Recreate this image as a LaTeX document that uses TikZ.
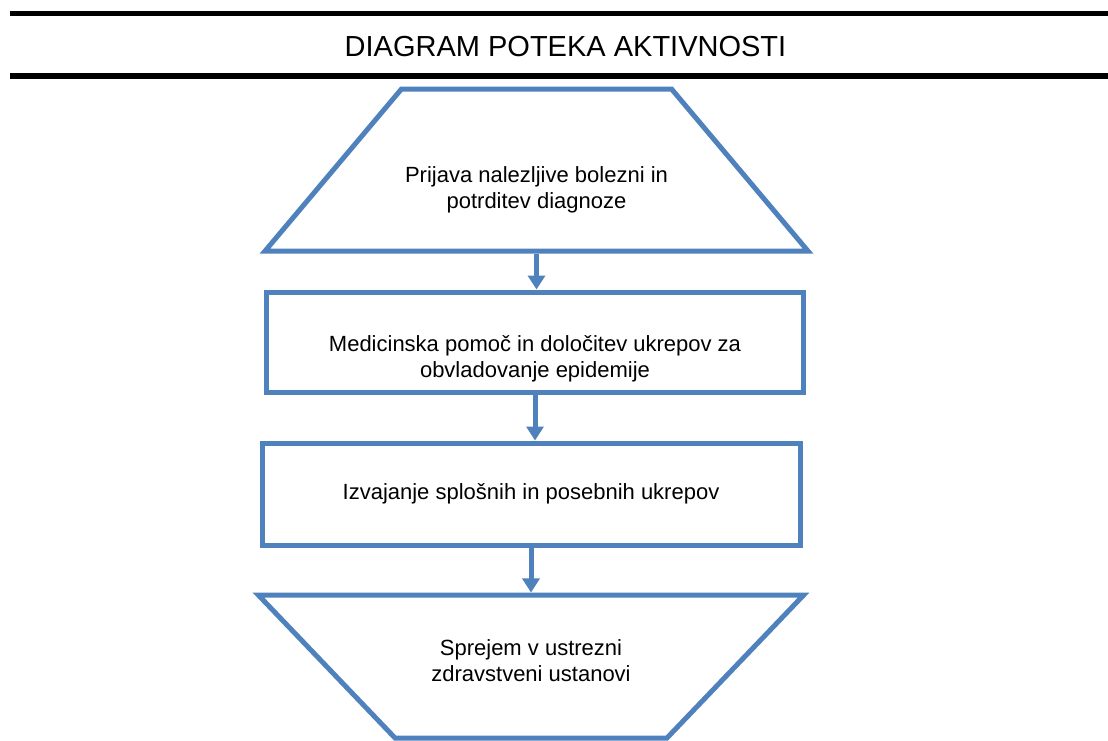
\documentclass[tikz,border=0pt]{standalone}
\usepackage{xcolor}
\usepackage{fontspec}
\setmainfont{Liberation Sans}
\usetikzlibrary{shapes.geometric,arrows.meta,positioning}
\definecolor{flowblue}{RGB}{79,129,189}

\begin{document}
\begin{tikzpicture}[x=1pt,y=-1pt,
  box/.style={draw=flowblue,line width=5pt,rectangle},
  trap/.style={draw=flowblue,line width=5pt,trapezium,trapezium stretches=true},
  lbl/.style={align=center,font=\fontsize{22}{26.5}\selectfont},
  flow/.style={draw=flowblue,line width=5pt,-{Triangle[width=17pt,length=14pt]}}]
\useasboundingbox (0,0) rectangle (1108,740);

% header rules and title
\draw [line width=5.5pt]  (10,13.5) -- (1108,13.5) ;
\draw [line width=5.5pt]  (10,76) -- (1108,76) ;
\node [font=\fontsize{29}{35}\selectfont] (title) at (565.5,46.5) {DIAGRAM POTEKA AKTIVNOSTI};

% shapes (angles are those of the unstretched shape)
\node [trap,minimum width=543pt,minimum height=162pt,trapezium left angle=63.2,trapezium right angle=63.2] (prijava) at (536.5,170) {};
\node [box,minimum width=537pt,minimum height=100pt] (pomoc) at (535,342) {};
\node [box,minimum width=538pt,minimum height=102pt] (ukrepi) at (531,494) {};
\node [trap,shape border rotate=180,minimum width=546pt,minimum height=143pt,trapezium left angle=63.3,trapezium right angle=63.3] (sprejem) at (531,666.5) {};

% texts
\node [lbl] (prijavatxt) at ([yshift=-20pt]prijava.center) {Prijava nalezljive bolezni in\\potrditev diagnoze};
\node [lbl] (pomoctxt) at ([yshift=-17pt]pomoc.center) {Medicinska pomoč in določitev ukrepov za\\obvladovanje epidemije};
\node [lbl] (ukrepitxt) at (ukrepi.center) {Izvajanje splošnih in posebnih ukrepov};
\node [lbl] (sprejemtxt) at ([yshift=6pt]sprejem.center) {Sprejem v ustrezni\\zdravstveni ustanovi};

% connectors
\draw [flow] (prijava.south) -- (prijava.south |- pomoc.north) ;
\draw [flow] (pomoc.south) -- (pomoc.south |- ukrepi.north) ;
\draw [flow] (ukrepi.south) -- (ukrepi.south |- sprejem.north) ;

\end{tikzpicture}
\end{document}
